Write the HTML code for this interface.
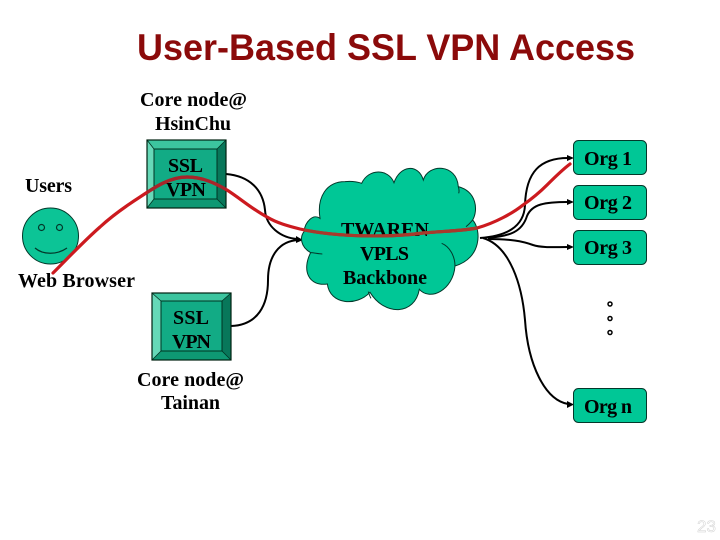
<!DOCTYPE html>
<html><head><meta charset="utf-8"><style>
html,body{margin:0;padding:0;background:#fff}
svg{display:block}
.t{font:bold 20px "Liberation Serif",serif;fill:#000}
.c{fill:none;stroke:#000;stroke-width:2}
.r{fill:none;stroke-width:3.200;stroke-linecap:round}
</style></head><body>
<svg width="720" height="540" viewBox="0 0 720 540" xmlns="http://www.w3.org/2000/svg">
<defs>
<clipPath id="a"><rect x="304" y="200" width="173" height="60"/></clipPath>
<clipPath id="b"><rect x="147" y="140" width="79" height="68"/></clipPath>
</defs>
<text x="137" y="60" style="font:bold 36.800px 'Liberation Sans',sans-serif;fill:#8b0a0a" textLength="498" lengthAdjust="spacingAndGlyphs">User-Based SSL VPN Access</text>

<!-- connectors -->
<path class="c" d="M226 174C250 176 263 190 265 210C266 226 280 238 298 239"/>
<path class="c" d="M231 326C258 325 268 305 268 280C268 255 280 241 298 240"/>
<path d="M296 236L303 240L296 243Z" fill="#000"/>
<path class="c" d="M480 238C505 236 524 228 525 205C526 172 540 158 568 158"/>
<path class="c" d="M488 238C510 236 522 232 527 216C532 204 545 202 568 202"/>
<path class="c" d="M488 239C510 239 522 241 533 245C542 248 555 247 568 247"/>
<path class="c" d="M483 238C510 246 522 285 525 320C528 365 545 400 568 404"/>
<path d="M567 155L574 158L567 161Z M567 199L574 202L567 205Z M567 244L574 247L567 250Z M567 401L574 404.500L567 408Z" fill="#000"/>

<!-- cloud -->
<g transform="translate(290 130) scale(.3333)">
<path d="M42 305C45 275 70 250 90 265C80 200 110 155 165 155C185 153 200 155 215 160C235 115 295 115 312 158C330 105 385 100 400 150C415 100 500 100 505 170C560 185 565 240 548 270C575 300 575 385 495 408C490 480 420 515 388 478C375 555 285 560 240 487C200 530 120 525 112 462C55 470 35 420 62 368C30 350 30 320 42 305Z" fill="#00c796" stroke="#03382a" stroke-width="3"/>
<path d="M455 340C480 350 495 380 495 408M62 368C72 368 85 372 97 372M548 270C540 280 535 285 528 290M235 485C238 495 240 500 243 505M505 170C508 180 508 185 506 190" fill="none" stroke="#03382a" stroke-width="3"/>
</g>

<!-- SSL box 1 -->
<path d="M147 140H226L217 149H154Z" fill="#3cc59f"/>
<path d="M147 140L154 149V199L147 208Z" fill="#66d9b8"/>
<path d="M226 140L217 149V199L226 208Z" fill="#08775a"/>
<path d="M147 208L154 199H217L226 208Z" fill="#0e9873"/>
<rect x="154" y="149" width="63" height="50" fill="#12ab85" stroke="#032" stroke-width="1"/>
<path d="M147 140L154 149M226 140L217 149M147 208L154 199M226 208L217 199" stroke="#032" stroke-width=".8"/>
<rect x="147" y="140" width="79" height="68" fill="none" stroke="#021" stroke-width="1.200"/>

<!-- SSL box 2 -->
<path d="M152 293H231L222 301H161Z" fill="#3cc59f"/>
<path d="M152 293L161 301V351L152 360Z" fill="#66d9b8"/>
<path d="M231 293L222 301V351L231 360Z" fill="#08775a"/>
<path d="M152 360L161 351H222L231 360Z" fill="#0e9873"/>
<rect x="161" y="301" width="61" height="50" fill="#12ab85" stroke="#032" stroke-width="1"/>
<path d="M152 293L161 301M231 293L222 301M152 360L161 351M231 360L222 351" stroke="#032" stroke-width=".8"/>
<rect x="152" y="293" width="79" height="67" fill="none" stroke="#021" stroke-width="1.200"/>

<!-- smiley -->
<circle cx="50.500" cy="236" r="28" fill="#0cc496" stroke="#03382a" stroke-width="1"/>
<circle cx="41.500" cy="227.500" r="3" fill="none" stroke="#03382a" stroke-width="1.200"/>
<circle cx="59.500" cy="227.500" r="3" fill="none" stroke="#03382a" stroke-width="1.200"/>
<path d="M35 248C43 255 57 255 67 248" fill="none" stroke="#03382a" stroke-width="1.200"/>

<!-- orgs -->
<g fill="#00c796" stroke="#03382a" stroke-width="1">
<rect x="573.500" y="140.500" width="73" height="34" rx="5"/>
<rect x="573.500" y="185.500" width="73" height="34" rx="5"/>
<rect x="573.500" y="230.500" width="73" height="34" rx="5"/>
<rect x="573.500" y="388.500" width="73" height="34" rx="5"/>
</g>
<g fill="#fff" stroke="#000" stroke-width="1.500">
<circle cx="610" cy="304" r="2"/><circle cx="610" cy="318.500" r="2"/><circle cx="610" cy="332.500" r="2"/>
</g>

<!-- labels -->
<text class="t" x="140" y="106" textLength="107" lengthAdjust="spacing">Core node@</text>
<text class="t" x="155" y="130" textLength="76" lengthAdjust="spacing">HsinChu</text>
<text class="t" x="168" y="172" textLength="35" lengthAdjust="spacing">SSL</text>
<text class="t" x="166" y="196" textLength="40" lengthAdjust="spacing">VPN</text>
<text class="t" x="25" y="192" textLength="47" lengthAdjust="spacing">Users</text>
<text class="t" x="18" y="287" textLength="117" lengthAdjust="spacing">Web Browser</text>
<text class="t" x="173" y="324" textLength="36" lengthAdjust="spacing">SSL</text>
<text class="t" x="172" y="348" textLength="39" lengthAdjust="spacing">VPN</text>
<text class="t" x="137" y="386" textLength="107" lengthAdjust="spacing">Core node@</text>
<text class="t" x="161" y="409" textLength="59" lengthAdjust="spacing">Tainan</text>
<text class="t" x="341" y="236" textLength="88" lengthAdjust="spacing">TWAREN</text>
<text class="t" x="360" y="260" textLength="49" lengthAdjust="spacing">VPLS</text>
<text class="t" x="343" y="284" textLength="84" lengthAdjust="spacing">Backbone</text>
<text class="t" x="584" y="165" textLength="48" lengthAdjust="spacing">Org 1</text>
<text class="t" x="584" y="209" textLength="48" lengthAdjust="spacing">Org 2</text>
<text class="t" x="584" y="254" textLength="48" lengthAdjust="spacing">Org 3</text>
<text class="t" x="584" y="413" textLength="48" lengthAdjust="spacing">Org n</text>

<!-- red path -->
<path id="rp" class="r" stroke="#cc1a1f" d="M53 273C68 258 84 241 100 227C113 215 126 206 140 197C155 187 170 177 187 177C202 177 215 183 227 190C241 199 252 209 267 217C277 223 288 226 300 229C340 238 395 237 423 233C445 231 462 231 477 228C495 223 513 213 523 205C533 198 540 192 547 185C555 177 562 170 570 164"/>
<path class="r" stroke="#a63a2c" clip-path="url(#a)" d="M300 229C340 238 395 237 423 233C445 231 462 231 477 228C495 223 513 213 523 205"/>
<path class="r" stroke="#a8242a" clip-path="url(#b)" d="M140 197C155 187 170 177 187 177C202 177 215 183 227 190"/>

<!-- slide number -->
<text x="697" y="532" style="font:17px 'Liberation Sans',sans-serif;fill:#fff;stroke:#d0d0d0;stroke-width:.5">23</text>
</svg>
</body></html>
